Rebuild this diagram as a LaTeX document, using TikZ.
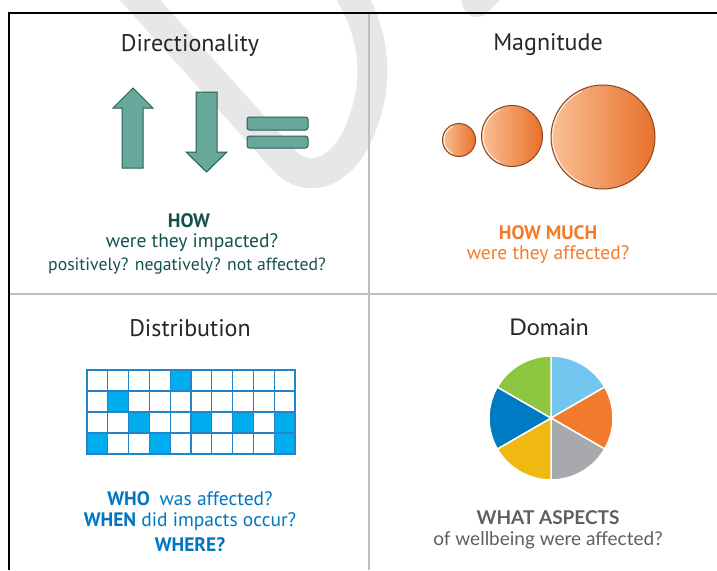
\documentclass[tikz,border=0pt]{standalone}
\usepackage{fontspec}
\setmainfont{PT Sans}
\newfontfamily\domfont{Lato}
\usetikzlibrary{calc}

\definecolor{wmark}{RGB}{231,231,231}
\definecolor{divgray}{RGB}{190,190,190}
\definecolor{tealfill}{RGB}{104,168,154}
\definecolor{tealline}{RGB}{38,96,88}
\definecolor{tealtext}{RGB}{18,82,78}
\definecolor{orangetext}{RGB}{243,124,42}
\definecolor{orblight}{RGB}{250,192,150}
\definecolor{orbdark}{RGB}{232,112,42}
\definecolor{orbline}{RGB}{140,68,32}
\definecolor{cellfill}{RGB}{0,174,239}
\definecolor{cellline}{RGB}{34,132,202}
\definecolor{bluetext}{RGB}{0,118,194}
\definecolor{pieA}{RGB}{113,197,238}
\definecolor{pieB}{RGB}{242,122,44}
\definecolor{pieC}{RGB}{168,169,172}
\definecolor{pieD}{RGB}{240,185,18}
\definecolor{pieE}{RGB}{0,122,194}
\definecolor{pieF}{RGB}{141,198,63}
\definecolor{graytext}{RGB}{95,95,95}

\begin{document}
\begin{tikzpicture}
[x=1pt,y=-1pt
,title/.style={font=\fontsize{24}{28}\selectfont,text=black!85}
,txt/.style={font=\fontsize{19.5}{22}\selectfont}
,how/.style={txt,text=tealtext}
,much/.style={txt,text=orangetext}
,who/.style={txt,text=bluetext}
,what/.style={font=\domfont\fontsize{19}{22}\selectfont,text=graytext}
,arrowshape/.style={fill=tealfill,draw=tealline,line width=1pt,line join=miter}
,orb/.style={left color=orblight,right color=orbdark,draw=orbline,line width=1pt}
,cell/.style={draw=cellline,line width=1.2pt}
,inner sep=0pt]
\useasboundingbox (0,0) rectangle (717,570);

% watermark
\draw[wmark,line width=30pt,line cap=round]
  (122,-20) -- (282,158) .. controls (308,188) and (345,172) .. (362,125)
  .. controls (382,72) and (372,25) .. (342,-20);
\draw[wmark,line width=30pt,line cap=round] (477,2) -- (500,-22);

% frame
\draw[divgray,line width=2pt] (369,13) -- (369,570);
\draw[divgray,line width=2pt] (9,294) -- (717,294);
\draw[black,line width=2pt] (8,13) -- (717,13);
\draw[black,line width=2pt] (9,13) -- (9,570);

% directionality
\node[title] (dirtitle) at (190,45) {Directionality};
\draw[arrowshape] (133,88) -- (153,108) -- (143,108) -- (143,168)
  -- (122,168) -- (122,108) -- (113,108) -- cycle;
\draw[arrowshape] (206.5,172) -- (227,152) -- (217,152) -- (217,92)
  -- (196,92) -- (196,152) -- (186,152) -- cycle;
\draw[arrowshape,rounded corners=2.5pt] (247,117) rectangle (308,130);
\draw[arrowshape,rounded corners=2.5pt] (247,136) rectangle (308,148);
\node[how] (how1) at (189,221) {\textbf{HOW}};
\node[how] (how2) at (192,243) {were they impacted?};
\node[how,font=\fontsize{17.7}{20}\selectfont] (how3) at (187,266) {positively? negatively? not affected?};

% magnitude
\node[title] (magtitle) at (548,45) {Magnitude};
\foreach \cx/\cy/\r in {459/140/16.5, 512/136/30.5, 603/137/52}{
  \shade[orb] (\cx,\cy) circle (\r);
  \begin{scope}[shift={(\cx,\cy)},yscale=-1]
    \draw[white,line width=0.7pt] (115:\r-1.6) arc (115:245:\r-1.6);
  \end{scope}
}
\node[much] (much1) at (548,233) {\textbf{HOW MUCH}};
\node[much] (much2) at (548,255) {were they affected?};

% distribution
\node[title] (distitle) at (190,328) {Distribution};
\foreach \c/\r in {4/0, 1/1, 2/2, 5/2, 7/2, 9/2, 0/3, 3/3, 9/3}
  \fill[cellfill] (87+\c*20.8,370+\r*21) rectangle ++(20.8,21);
\foreach \c in {0,...,9}
  \foreach \r in {0,...,3}
    \draw[cell] (87+\c*20.8,370+\r*21) rectangle ++(20.8,21);
\node[who] (who1) at (190,499) {\textbf{WHO}\enspace was affected?};
\node[who] (who2) at (190,522) {\textbf{WHEN} did impacts occur?};
\node[who] (who3) at (190,545) {\textbf{WHERE?}};

% domain
\node[title,font=\domfont\fontsize{23}{26}\selectfont] (domtitle) at (549,327) {Domain};
\begin{scope}[shift={(551,418)},yscale=-1]
  \foreach \a/\c in {30/pieA, -30/pieB, -90/pieC, -150/pieD, 150/pieE, 90/pieF}
    \fill[\c,draw=white,line width=1.5pt] (0,0) -- (\a:62) arc (\a:\a+60:62) -- cycle;
\end{scope}
\node[what] (what1) at (548,518) {\textbf{WHAT ASPECTS}};
\node[what] (what2) at (548,540) {of wellbeing were affected?};
\end{tikzpicture}
\end{document}
